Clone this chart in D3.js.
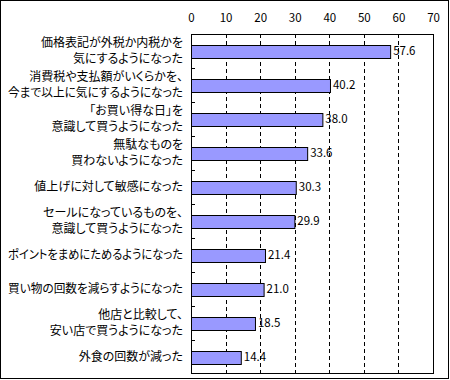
<!DOCTYPE html>
<html>
<head>
<meta charset="utf-8">
<script src="https://cdn.jsdelivr.net/npm/d3@7"></script>
<style>
  body { margin: 0; background: #fff; }
  svg { display: block; font-family: "Noto Sans CJK JP", sans-serif; font-feature-settings: "palt"; }
</style>
</head>
<body>
<div id="chart"></div>
<script>
// 項目（改行は \n）
var categories = [
  '価格表記が外税か内税かを\n気にするようになった',
  '消費税や支払額がいくらかを、\n今まで以上に気にするようになった',
  '「お買い得な日」を\n意識して買うようになった',
  '無駄なものを\n買わないようになった',
  '値上げに対して敏感になった',
  'セールになっているものを、\n意識して買うようになった',
  'ポイントをまめにためるようになった',
  '買い物の回数を減らすようになった',
  '他店と比較して、\n安い店で買うようになった',
  '外食の回数が減った'
]
var values = [57.6, 40.2, 38.0, 33.6, 30.3, 29.9, 21.4, 21.0, 18.5, 14.4]
var ticks = [0, 10, 20, 30, 40, 50, 60, 70]

var width = 450, height = 380
var margin = { top: 34, right: 17, bottom: 6, left: 191 }

var svg = d3.select('#chart').append('svg')
  .attr('width', width)
  .attr('height', height)

// 外枠
svg.append('rect')
  .attr('x', 0.5).attr('y', 0.5)
  .attr('width', width - 2).attr('height', height - 2)
  .attr('fill', '#fff').attr('stroke', '#000')

var x = d3.scaleLinear().domain([0, 70]).range([margin.left, width - margin.right])
var y = d3.scaleBand().domain(d3.range(categories.length))
  .range([margin.top, height - margin.bottom])
  .paddingInner(0.62).paddingOuter(0.31)

var plotTop = margin.top, plotBottom = height - margin.bottom

// グリッド（破線）
svg.append('g').selectAll('line')
  .data(ticks.slice(1, -1))
  .enter().append('line')
  .attr('x1', function (d) { return Math.round(x(d)) + 0.5 })
  .attr('x2', function (d) { return Math.round(x(d)) + 0.5 })
  .attr('y1', plotTop).attr('y2', plotBottom)
  .attr('stroke', '#000')
  .attr('stroke-dasharray', '4,3')

// プロットエリア枠
svg.append('rect')
  .attr('x', Math.round(x(0)) + 0.5).attr('y', plotTop + 0.5)
  .attr('width', Math.round(x(70)) - Math.round(x(0)))
  .attr('height', plotBottom - plotTop - 1)
  .attr('fill', 'none').attr('stroke', '#000')

// 上の目盛りラベル
var xAxis = d3.axisTop(x).tickValues(ticks).tickSize(0).tickPadding(0)
var ax = svg.append('g').attr('transform', 'translate(0,' + 22 + ')').call(xAxis)
ax.select('.domain').remove()
ax.selectAll('text').attr('font-size', '11.5px').attr('font-family', '"Noto Sans CJK JP", sans-serif').attr('fill', '#000')

// 左軸の区切り目盛り
var step = (plotBottom - plotTop) / categories.length
svg.append('g').selectAll('line')
  .data(d3.range(1, categories.length))
  .enter().append('line')
  .attr('x1', Math.round(x(0))).attr('x2', Math.round(x(0)) + 4)
  .attr('y1', function (d) { return Math.round(plotTop + d * step) + 0.5 })
  .attr('y2', function (d) { return Math.round(plotTop + d * step) + 0.5 })
  .attr('stroke', '#000')

// 棒
svg.append('g').selectAll('rect')
  .data(values)
  .enter().append('rect')
  .attr('x', Math.round(x(0)) + 0.5)
  .attr('y', function (d, i) { return Math.round(y(i)) + 0.5 })
  .attr('width', function (d) { return x(d) - x(0) })
  .attr('height', Math.round(y.bandwidth()))
  .attr('fill', '#9999ff')
  .attr('stroke', '#000')

// 値ラベル
svg.append('g').selectAll('text')
  .data(values)
  .enter().append('text')
  .attr('x', function (d) { return x(d) + 3 })
  .attr('y', function (d, i) { return y(i) + y.bandwidth() / 2 })
  .attr('dy', '0.36em')
  .attr('font-size', '11.5px')
  .text(function (d) { return d.toFixed(1) })

// 項目ラベル
var lab = svg.append('g').selectAll('text')
  .data(categories)
  .enter().append('text')
  .attr('text-anchor', 'end')
  .attr('font-size', '12px')
  .attr('y', function (d, i) { return y(i) + y.bandwidth() / 2 })
lab.each(function (d) {
  var lines = d.split('\n')
  var t = d3.select(this)
  lines.forEach(function (s, k) {
    var ts = t.append('tspan')
      .attr('x', 183)
      .attr('dy', k == 0 ? ((-(lines.length - 1) * 16 / 2) + 4) + 'px' : '16px')
      .text(s)
    // 幅が広すぎる行は左端に収める
    var w = ts.node().getComputedTextLength()
    if (w > 175) ts.attr('textLength', 175).attr('lengthAdjust', 'spacingAndGlyphs')
  })
})
</script>
</body>
</html>
